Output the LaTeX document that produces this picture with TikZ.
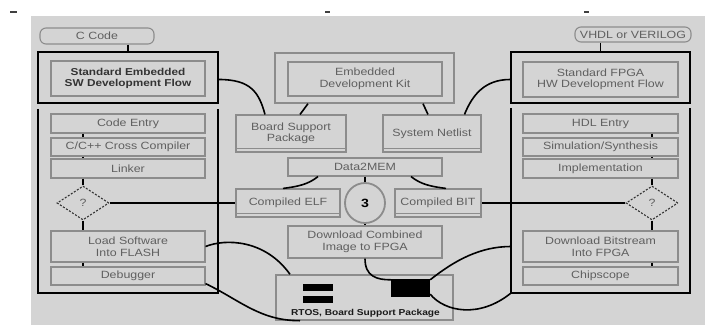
\documentclass[tikz,border=0pt]{standalone}
\usepackage{fontspec}
\setmainfont{Liberation Sans}[FakeStretch=1.18]
\usetikzlibrary{shapes.geometric}
\definecolor{bg}{RGB}{212,212,212}
\definecolor{bx}{RGB}{140,140,140}
\definecolor{tx}{RGB}{95,95,95}
\tikzset{
  flowbox/.style={draw=bx, line width=1.1pt, fill=bg, text=tx, inner sep=0pt, align=center,
    font=\fontsize{10.5}{11.5}\selectfont},
  shadowbox/.style={flowbox},
  thickbox/.style={draw=black, line width=1.8pt, fill=bg, inner sep=0pt},
  rbox/.style={flowbox, rounded corners=6pt},
  frame/.style={draw=none, inner sep=0pt},
  dia/.style={diamond, draw=black!80, dash pattern=on 2pt off 1.6pt, line width=1.1pt, fill=bg,
    inner sep=0pt, minimum width=52pt, minimum height=34pt, text=tx, font=\fontsize{10.5}{11.5}\selectfont},
  conn/.style={black, line width=1.8pt},
  link/.style={black, line width=1.6pt},
  bar/.style={fill=black, draw=none, inner sep=0pt},
  lip/.style={draw=bx, line width=1.1pt}
}
\begin{document}
\begin{tikzpicture}[x=1pt,y=-1pt]
\useasboundingbox (0,0) rectangle (705,325);
\fill[bg] (31,16) rectangle (705,325);
% small marks at top
\fill[black!75] (10,11) rectangle (17,13);
\fill[black!75] (325,10.5) rectangle (330,12.5);
\fill[black!75] (584,11) rectangle (589,13);

% ---------- left column ----------
\node[rbox, minimum width=114pt, minimum height=16pt] (ccode) at (97,36) {C Code};
\node[thickbox, minimum width=180pt, minimum height=51pt] (swthick) at (128,77.5) {};
\node[flowbox, text=black!80, minimum width=154pt, minimum height=35pt,
  font=\bfseries\fontsize{10}{11.5}\selectfont] (swflow) at (128,78.5) {Standard Embedded\\SW Development Flow};
\node[frame, minimum width=180pt, minimum height=184pt] (lframe) at (128,201) {};
\draw[black, line width=1.8pt] (lframe.north west) -- (lframe.south west) -- (lframe.south east) -- (lframe.north east);
\node[flowbox, minimum width=154pt, minimum height=19pt] (codeentry) at (128,123.5) {Code Entry};
\node[flowbox, minimum width=154pt, minimum height=18pt] (compiler) at (128,147) {C/C++ Cross Compiler};
\node[flowbox, minimum width=154pt, minimum height=19pt] (linker) at (128,168.5) {Linker};
\node[dia] (dL) at (83,203) {?};
\node[flowbox, minimum width=154pt, minimum height=31pt] (loadsw) at (128,246.5) {Load Software\\Into FLASH};
\node[flowbox, minimum width=154pt, minimum height=18pt] (debugger) at (128,276) {Debugger};

\draw[conn] (swthick.north |- ccode.south) -- (swthick.north);
\draw[conn] (dL |- codeentry.south) -- (dL |- compiler.north);
\draw[conn] (dL |- compiler.south) -- (dL |- linker.north);
\draw[conn] (dL |- linker.south) -- (dL.north);
\draw[conn] (dL.south) -- (dL |- loadsw.north);
\draw[conn] (dL |- loadsw.south) -- (dL |- debugger.north);

% ---------- right column ----------
\node[rbox, minimum width=116pt, minimum height=15pt] (vhdl) at (633,34.5) {VHDL or VERILOG};
\node[thickbox, minimum width=179pt, minimum height=51pt] (hwthick) at (600.5,77.5) {};
\node[flowbox, minimum width=155pt, minimum height=35pt] (hwflow) at (600.5,79.5) {Standard FPGA\\HW Development Flow};
\node[frame, minimum width=179pt, minimum height=185pt] (rframe) at (600.5,200.5) {};
\draw[black, line width=1.8pt] (rframe.north west) -- (rframe.south west) -- (rframe.south east) -- (rframe.north east);
\node[flowbox, minimum width=155pt, minimum height=19pt] (hdl) at (600.5,123.5) {HDL Entry};
\node[flowbox, minimum width=155pt, minimum height=18pt] (sim) at (600.5,147) {Simulation/Synthesis};
\node[flowbox, minimum width=155pt, minimum height=19pt] (impl) at (600.5,168.5) {Implementation};
\node[dia] (dR) at (652,203) {?};
\node[flowbox, minimum width=155pt, minimum height=31pt] (dlbit) at (600.5,246.5) {Download Bitstream\\Into FPGA};
\node[flowbox, minimum width=155pt, minimum height=18pt] (chipscope) at (600.5,276) {Chipscope};

\draw[conn] (hwthick.north |- vhdl.south) -- (hwthick.north);
\draw[conn] (dR |- hdl.south) -- (dR |- sim.north);
\draw[conn] (dR |- sim.south) -- (dR |- impl.north);
\draw[conn] (dR |- impl.south) -- (dR.north);
\draw[conn] (dR.south) -- (dR |- dlbit.north);
\draw[conn] (dR |- dlbit.south) -- (dR |- chipscope.north);

% ---------- centre ----------
\node[flowbox, line width=1.4pt, minimum width=179pt, minimum height=50pt] (edkouter) at (364.5,78) {};
\node[flowbox, minimum width=154pt, minimum height=34pt] (edk) at (365,79) {Embedded\\Development Kit};
\node[shadowbox, minimum width=110pt, minimum height=37pt] (bsp) at (291,133.5) {Board Support\\Package};
\node[shadowbox, minimum width=98pt, minimum height=37pt] (netlist) at (432,133.5) {System Netlist};
\node[flowbox, minimum width=154pt, minimum height=18pt] (data2mem) at (365,167) {Data2MEM};
\node[shadowbox, minimum width=104pt, minimum height=28pt] (elf) at (288,203) {Compiled ELF};
\node[circle, draw=bx, line width=1.8pt, fill=bg, minimum size=40pt, inner sep=0pt,
  font=\bfseries\fontsize{12}{14}\selectfont] (c3) at (365,203) {3};
\node[shadowbox, minimum width=86pt, minimum height=28pt] (bit) at (438,203) {Compiled BIT};
\node[flowbox, minimum width=154pt, minimum height=32pt] (dlcomb) at (365,242) {Download Combined\\Image to FPGA};
\node[flowbox, line width=1.4pt, minimum width=177pt, minimum height=45pt] (rtos) at (364.5,297.5) {};
\node[text=black!90, font=\bfseries\fontsize{8.6}{10}\selectfont, inner sep=0pt] (rtoslbl) at (365.5,313) {RTOS, Board Support Package};
\node[bar, minimum width=30pt, minimum height=7pt] (bar1) at (318,287.5) {};
\node[bar, minimum width=30pt, minimum height=7pt] (bar2) at (318,299.5) {};
\node[bar, minimum width=39pt, minimum height=18pt] (sq) at (410.5,288) {};

% inner lips of the raised boxes
\foreach \b in {bsp,netlist,elf,bit}{
  \draw[lip] ([yshift=4.5pt]\b.south west) -- ([yshift=4.5pt]\b.south east);
}

\draw[conn] (dL.east) -- (elf.west);
\draw[conn] (dR.west) -- (bit.east);
\draw[link] ([yshift=-2pt]swthick.east) .. controls +(32,0) and +(-6,-22) .. ([xshift=-26pt]bsp.north);
\draw[link] ([xshift=-56.5pt]edkouter.south) -- ([xshift=9pt]bsp.north);
\draw[link] ([xshift=58.5pt]edkouter.south) -- ([xshift=-4pt]netlist.north);
\draw[link] ([yshift=-2pt]hwthick.west) .. controls +(-25,0) and +(8,-20) .. ([xshift=32.5pt]netlist.north);
\draw[link] ([xshift=-47pt]data2mem.south) .. controls +(-10,8) and +(15,-2) .. ([xshift=-5pt]elf.north);
\draw[link] ([xshift=46pt]data2mem.south) .. controls +(10,8) and +(-15,-2) .. ([xshift=8pt]bit.north);
\draw[conn] (data2mem.south) -- (c3.north);
\draw[conn] (c3.south) -- (dlcomb.north);
\draw[link] (dlcomb.south) .. controls +(0,18) and +(-14,0) .. ([yshift=-1pt]sq.north west);
\draw[link] ([yshift=-1pt]sq.north east) .. controls +(25,-20) and +(-30,0) .. (rframe.west |- dlbit.west);
\draw[link] ([yshift=3pt]sq.south east) .. controls +(15,18) and +(-31,25) .. (rframe.south west);
\draw[link] (loadsw.east) .. controls +(20,-8) and +(-25,-35) .. ([xshift=-74.5pt]rtos.north);
\draw[link] ([yshift=2pt]debugger.south east) .. controls +(35,17) and +(-40,0) .. ([xshift=-64.5pt]rtos.south);
\end{tikzpicture}
\end{document}
